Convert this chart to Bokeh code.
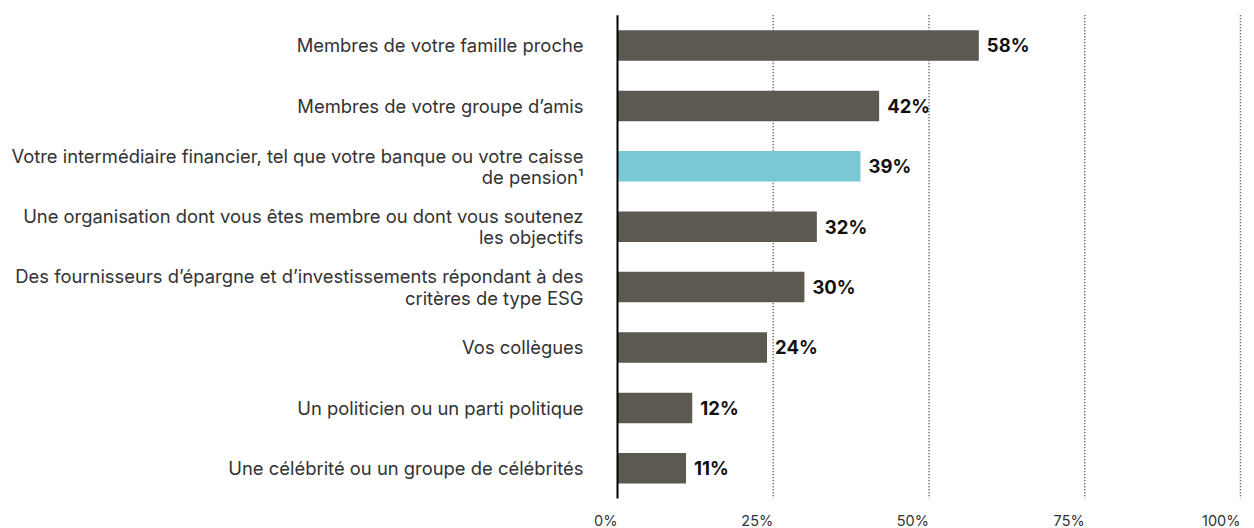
from bokeh.plotting import figure
from bokeh.models import Range1d, ColumnDataSource
from bokeh.core.properties import value
from bokeh.embed import file_html
from bokeh.resources import INLINE

# ---- data ----
categories = [
    "Membres de votre famille proche",
    "Membres de votre groupe d’amis",
    "Votre intermédiaire financier, tel que votre banque ou votre caisse\nde pension¹",
    "Une organisation dont vous êtes membre ou dont vous soutenez\nles objectifs",
    "Des fournisseurs d’épargne et d’investissements répondant à des\ncritères de type ESG",
    "Vos collègues",
    "Un politicien ou un parti politique",
    "Une célébrité ou un groupe de célébrités",
]
values = [58, 42, 39, 32, 30, 24, 12, 11]
highlight = [False, False, True, False, False, False, False, False]
tick_values = [0, 25, 50, 75, 100]
tick_labels = ["0%", "25%", "50%", "75%", "100%"]

# ---- styles ----
BAR = "#5d5850"
HL = "#7ac7d6"
FONT = "Inter"

n = len(categories)
pos = list(range(n))

src = ColumnDataSource(dict(
    y=pos,
    v=values,
    cat=categories,
    lab=[f"{v}%" for v in values],
    color=[HL if h else BAR for h in highlight],
))

p = figure(
    width=1254, height=528,
    x_range=Range1d(-99.04, 102.25),
    y_range=Range1d(7.997, -0.745),
    x_axis_type=None, y_axis_type=None,
    toolbar_location=None, output_backend="svg",
    min_border=0,
)
p.outline_line_color = None
p.background_fill_color = "white"
p.border_fill_color = "white"

# dotted vertical gridlines
grid_x = tick_values[1:]
p.segment(x0=grid_x, x1=grid_x, y0=[-0.5] * len(grid_x), y1=[n - 0.5] * len(grid_x),
          line_color="#444444", line_width=1.5, line_dash="1 2")

# bars
p.hbar(y="y", left=0, right="v", height=0.505, color="color", line_color=None, source=src)

# zero axis line
p.segment(x0=[0], x1=[0], y0=[-0.5], y1=[n - 0.5], line_color="black", line_width=2)

# value labels
p.text(x="v", y="y", text="lab", x_offset=8, text_baseline="middle", text_align="left",
       text_font=value(FONT), text_font_style="bold", text_font_size="18.5px",
       text_color="#111111", source=src)

# category labels
p.text(x=0, y="y", text="cat", x_offset=-34, text_baseline="middle", text_align="right",
       text_font=value(FONT), text_font_size="18.4px", text_line_height=0.97,
       text_color="#333333", source=src)

# tick labels
p.text(x=tick_values, y=[n - 0.5] * len(tick_values), text=tick_labels, y_offset=22,
       text_align="right", text_baseline="alphabetic",
       text_font=value(FONT), text_font_size="14.5px", text_color="#333333")

open("out.html", "w").write(file_html(p, INLINE))
